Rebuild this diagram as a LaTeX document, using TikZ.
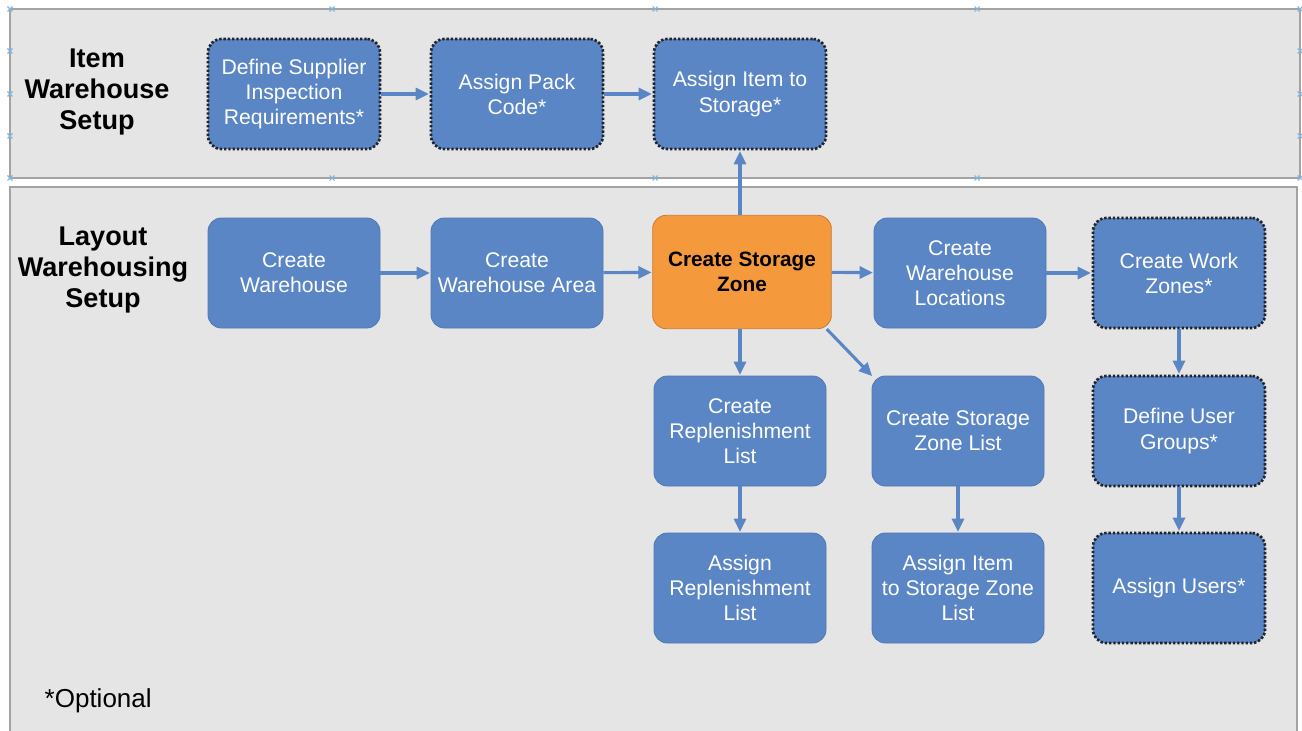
\documentclass[tikz,border=0pt]{standalone}
\usepackage{fontspec}
\setmainfont{Liberation Sans}
\usetikzlibrary{arrows.meta,calc}
\definecolor{panelfill}{HTML}{E5E5E5}
\definecolor{paneledge}{HTML}{A3A3A3}
\definecolor{stepblue}{HTML}{5B86C5}
\definecolor{stepedge}{HTML}{4D77B3}
\definecolor{zoneorange}{HTML}{F59A3C}
\definecolor{zoneedge}{HTML}{C97B30}
\definecolor{handleblue}{HTML}{7DB7E3}
\definecolor{dotedge}{HTML}{20242C}
\tikzset{
  stepbox/.style={rectangle, rounded corners=10pt, fill=stepblue, draw=stepedge,
    line width=0.6pt, minimum width=129pt, minimum height=82.5pt, align=center,
    text=white, font=\fontsize{15.9pt}{18.8pt}\selectfont, inner sep=2pt},
  optbox/.style={stepbox, draw=dotedge, line width=2pt,
    dash pattern=on 1.8pt off 1.4pt},
  zonebox/.style={stepbox, fill=zoneorange, draw=zoneedge, text=black,
    font=\fontsize{15.6pt}{18.8pt}\selectfont\bfseries,
    minimum width=134pt, minimum height=85pt},
  flow/.style={draw=stepblue, line width=2.3pt,
    -{Triangle[length=10pt,width=9pt]}, shorten >=0.5pt},
  paneltitle/.style={align=center, font=\fontsize{20.3pt}{23.3pt}\selectfont\bfseries},
  handle/.style={draw=handleblue, line width=0.8pt}
}
\newcommand{\handlemark}[1]{\draw[handle] ($(#1)+(-2.5,-2.5)$) -- ($(#1)+(2.5,2.5)$) ($(#1)+(-2.5,2.5)$) -- ($(#1)+(2.5,-2.5)$);}
\begin{document}
\begin{tikzpicture}[x=0.75pt,y=-0.75pt]
  \useasboundingbox (0,0) rectangle (1302,731);
  \fill[white] (0,0) rectangle (1302,731);
  % the two swim lanes
  \begin{scope}
    \clip (0,0) rectangle (1302,731);
    \draw[fill=panelfill, draw=paneledge, line width=1.1pt] (10,187) rectangle (1297,745);
  \end{scope}
  \draw[fill=panelfill, draw=paneledge, line width=1.1pt] (10,9) rectangle (1300,178);
  % selection handles on the upper lane
  \foreach \hx in {10,332,655,977,1300} {
    \handlemark{\hx,9}
    \handlemark{\hx,178}
  }
  \foreach \hy in {51,94,136} {
    \handlemark{10,\hy}
    \handlemark{1300,\hy}
  }
  % lane titles
  \node[paneltitle] (itemtitle) at (97,92) {Item\\Warehouse\\Setup};
  \node[paneltitle] (layouttitle) at (103,270) {Layout\\Warehousing\\Setup};
  \node[anchor=west, font=\fontsize{19.5pt}{22pt}\selectfont] (optnote) at (40,701) {*Optional};
  % item warehouse steps
  \node[optbox] (dsi) at (294,94) {Define Supplier\\Inspection\\Requirements*};
  \node[optbox] (apc) at (517,94) {Assign Pack\\Code*};
  \node[optbox] (ais) at (740,94) {Assign Item to\\Storage*};
  % layout steps
  \node[stepbox] (cw) at (294,273) {Create\\Warehouse};
  \node[stepbox] (cwa) at (517,273) {Create\\Warehouse Area};
  \node[zonebox] (csz) at (742,272) {Create Storage\\Zone};
  \node[stepbox] (cwl) at (960,273) {Create\\Warehouse\\Locations};
  \node[optbox] (cwz) at (1179,273) {Create Work\\Zones*};
  \node[stepbox] (crl) at (740,431) {Create\\Replenishment\\List};
  \node[stepbox] (cszl) at (958,431) {Create Storage\\Zone List};
  \node[optbox] (dug) at (1179,431) {Define User\\Groups*};
  \node[stepbox] (arl) at (740,588) {Assign\\Replenishment\\List};
  \node[stepbox] (aiszl) at (958,588) {Assign Item\\to Storage Zone\\List};
  \node[optbox] (au) at (1179,588) {Assign Users*};
  % connectors
  \draw[flow] (dsi) -- (apc);
  \draw[flow] (apc) -- (ais);
  \draw[flow] (cw) -- (cwa);
  \draw[flow] (cwa) -- (csz);
  \draw[flow] (csz) -- (cwl);
  \draw[flow] (cwl) -- (cwz);
  \draw[flow] (csz.north -| ais.south) -- (ais.south);
  \draw[flow] (csz.south -| crl.north) -- (crl.north);
  \draw[flow] ($(csz.south east)+(-5,0)$) -- ($(cszl.north west)+(1,1)$);
  \draw[flow] (cszl) -- (aiszl);
  \draw[flow] (crl) -- (arl);
  \draw[flow] (cwz) -- (dug);
  \draw[flow] (dug) -- (au);
\end{tikzpicture}
\end{document}
